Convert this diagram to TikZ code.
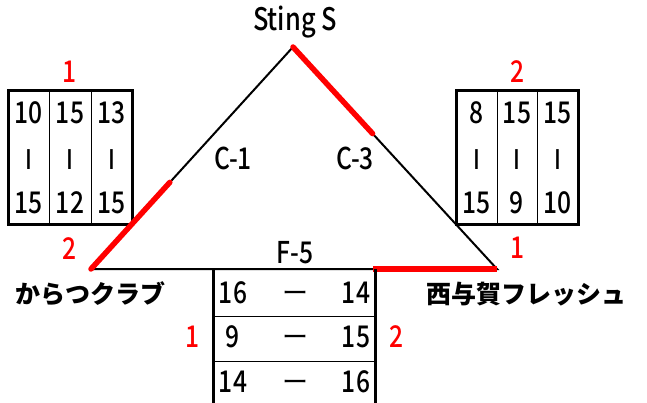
\documentclass[tikz,border=0pt]{standalone}
\usepackage{fontspec}
\setmainfont{Noto Sans CJK JP Medium}[FakeStretch=0.82]
\newfontfamily\jp{Noto Sans CJK JP}
\usetikzlibrary{calc}
\begin{document}
\begin{tikzpicture}[x=1pt,y=-1pt,
  lbl/.style={font=\fontsize{30}{30}\selectfont, inner sep=0pt, anchor=center},
  redlbl/.style={lbl, text=red},
  barlbl/.style={font=\fontsize{27}{27}\selectfont, inner sep=0pt},
  dashlbl/.style={font=\jp\fontsize{26}{26}\selectfont, inner sep=0pt, yshift=-4pt},
  jplbl/.style={font=\jp\bfseries\fontsize{25}{25}\selectfont, inner sep=0pt},
  side/.style={line width=2pt},
  redseg/.style={red, line width=5.5pt, line cap=round},
  outer/.style={line width=3pt},
  inner/.style={line width=1pt}]
\useasboundingbox (0,0) rectangle (647,403);

% triangle vertices
\coordinate (A) at (293,47);
\coordinate (L) at (91,269);
\coordinate (R) at (497,269);

% tables (drawn first)
\draw[outer] (8,91) rectangle (132,225);
\draw[inner] (49,91) -- (49,225) (91,91) -- (91,225);
\draw[outer] (456,91) rectangle (578,225);
\draw[inner] (497,91) -- (497,225) (537,91) -- (537,225);

% triangle
\draw[side] (L) -- (A) -- (R) -- cycle;

% red segments
\draw[redseg] (A) -- ($(A)!0.39!(R)$);
\draw[redseg] (L) -- ($(L)!0.39!(A)$);
\draw[red, line width=6pt] ($(R)!0.305!(L)$) -- (R);

% bottom table
\coordinate (BL) at (213,269);
\coordinate (BR) at (375,269);
\draw[outer] (BL) -- (213,403);
\draw[outer] (BR) -- (375,403);
\draw[inner] (213,316) -- (375,316) (213,361) -- (375,361);

% labels
\node[lbl, font=\fontsize{31}{31}\selectfont] (sting) at (295,22) {Sting S};
\node[lbl] (c1) at (233,158) {C-1};
\node[lbl] (c3) at (355,158) {C-3};
\node[lbl] (f5) at (295,253) {F-5};
\node[jplbl] (kara) at (90,294) {からつクラブ};
\node[jplbl] (nishi) at (526,294) {西与賀フレッシュ};

% red numbers
\node[redlbl] (l1) at (70,72) {1};
\node[redlbl] (l2) at (70,249) {2};
\node[redlbl] (r2) at (518,72) {2};
\node[redlbl] (r1) at (518,248) {1};
\node[redlbl] (b1) at (193,337) {1};
\node[redlbl] (b2) at (397,337) {2};

% left table contents
\node[lbl] (lt1) at (28.5,113) {10};
\node[lbl] (lt2) at (70,113) {15};
\node[lbl] (lt3) at (111.5,113) {13};
\node[barlbl] (lm1) at (28.5,160) {I};
\node[barlbl] (lm2) at (70,160) {I};
\node[barlbl] (lm3) at (111.5,160) {I};
\node[lbl] (lb1) at (28.5,203) {15};
\node[lbl] (lb2) at (70,203) {12};
\node[lbl] (lb3) at (111.5,203) {15};

% right table contents
\node[lbl] (rt1) at (476.5,113) {8};
\node[lbl] (rt2) at (517,113) {15};
\node[lbl] (rt3) at (557.5,113) {15};
\node[barlbl] (rm1) at (476.5,160) {I};
\node[barlbl] (rm2) at (517,160) {I};
\node[barlbl] (rm3) at (557.5,160) {I};
\node[lbl] (rb1) at (476.5,203) {15};
\node[lbl] (rb2) at (517,203) {9};
\node[lbl] (rb3) at (557.5,203) {10};

% bottom table contents
\node[lbl] (g1a) at (233,293) {16};
\node[dashlbl] (g1b) at (295,293) {ー};
\node[lbl] (g1c) at (356,293) {14};
\node[lbl] (g2a) at (233,337) {9};
\node[dashlbl] (g2b) at (295,337) {ー};
\node[lbl] (g2c) at (356,337) {15};
\node[lbl] (g3a) at (233,382) {14};
\node[dashlbl] (g3b) at (295,382) {ー};
\node[lbl] (g3c) at (356,382) {16};
\end{tikzpicture}
\end{document}
